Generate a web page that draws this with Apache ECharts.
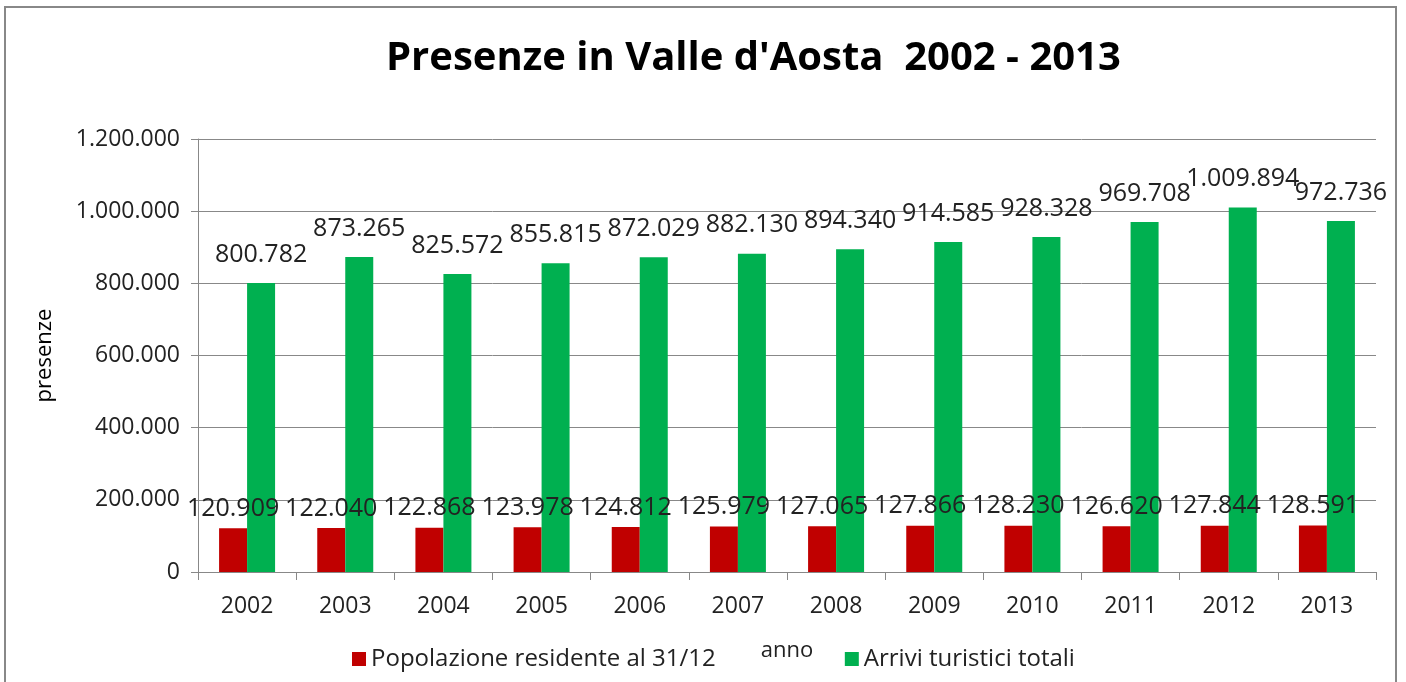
<!DOCTYPE html>
<html>
<head>
<meta charset="utf-8">
<script src="https://cdn.jsdelivr.net/npm/echarts@6/dist/echarts.min.js"></script>
<style>
  html, body { margin: 0; padding: 0; background: #fff; }
  #chart { width: 1406px; height: 682px; }
</style>
</head>
<body>
<div id="chart"></div>
<script>
const years = ['2002', '2003', '2004', '2005', '2006', '2007', '2008', '2009', '2010', '2011', '2012', '2013'];
const residenti = [120909, 122040, 122868, 123978, 124812, 125979, 127065, 127866, 128230, 126620, 127844, 128591];
const arrivi = [800782, 873265, 825572, 855815, 872029, 882130, 894340, 914585, 928328, 969708, 1009894, 972736];

const font = '"Open Sans", "Noto Sans", sans-serif';

// 1234567 -> 1.234.567
const fmt = (v) => String(v).replace(/\B(?=(\d{3})+(?!\d))/g, '.');

const chart = echarts.init(document.getElementById('chart'));

chart.setOption({
  animation: false,
  title: {
    text: "Presenze in Valle d'Aosta  2002 - 2013",
    left: 381,
    top: 34,
    textStyle: { fontFamily: font, fontWeight: 'bold', fontSize: 40, color: '#000' },
  },
  graphic: [{
    type: 'rect',
    shape: { x: 5, y: 7, width: 1391, height: 690 },
    style: { fill: 'none', stroke: '#888', lineWidth: 2 },
    silent: true,
  }],
  legend: {
    bottom: 6,
    left: 347,
    itemGap: 129,
    itemWidth: 14,
    itemHeight: 14,
    icon: 'rect',
    textStyle: { fontFamily: font, fontSize: 24, color: '#222' },
  },
  grid: { left: 198, right: 30, top: 139, bottom: 110 },
  xAxis: {
    type: 'category',
    data: years,
    name: 'anno',
    nameLocation: 'middle',
    nameGap: 68,
    nameTextStyle: { fontFamily: font, fontSize: 22, color: '#222' },
    axisLine: { lineStyle: { color: '#888' } },
    axisTick: { show: true, length: 8, lineStyle: { color: '#888' } },
    axisLabel: { fontFamily: font, fontSize: 23, color: '#222', margin: 23 },
  },
  yAxis: {
    type: 'value',
    min: 0,
    max: 1200000,
    interval: 200000,
    name: 'presenze',
    nameLocation: 'middle',
    nameGap: 142,
    nameTextStyle: { fontFamily: font, fontSize: 22, color: '#000' },
    axisLine: { show: true, lineStyle: { color: '#888' } },
    axisTick: { show: true, length: 7, lineStyle: { color: '#888' } },
    splitLine: { lineStyle: { color: '#888' } },
    axisLabel: { fontFamily: font, fontSize: 23, color: '#222', margin: 18, formatter: fmt },
  },
  series: [
    {
      name: 'Popolazione residente al 31/12',
      type: 'bar',
      data: residenti,
      barWidth: 28,
      barGap: '0%',
      itemStyle: { color: '#c00000' },
      label: {
        show: true,
        position: 'top',
        distance: 7,
        fontFamily: font,
        fontSize: 25,
        color: '#222',
        formatter: (p) => fmt(p.value),
      },
    },
    {
      name: 'Arrivi turistici totali',
      type: 'bar',
      data: arrivi,
      barWidth: 28,
      itemStyle: { color: '#00b050' },
      label: {
        show: true,
        position: 'top',
        distance: 16,
        fontFamily: font,
        fontSize: 25,
        color: '#222',
        formatter: (p) => fmt(p.value),
      },
    },
  ],
});
</script>
</body>
</html>
